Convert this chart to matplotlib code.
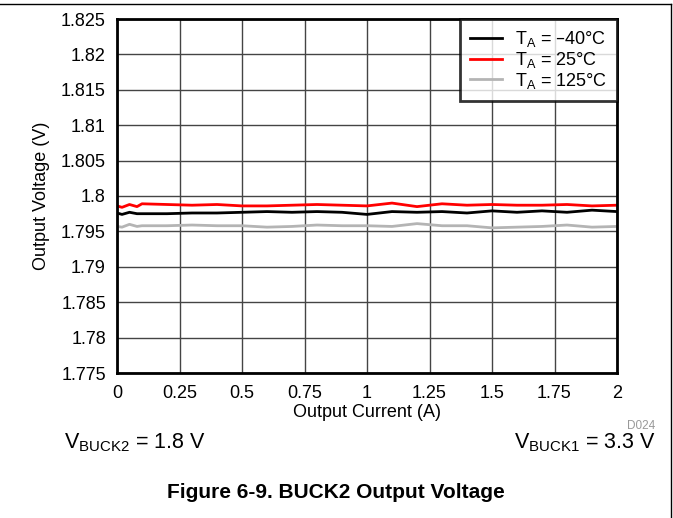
import matplotlib
matplotlib.use("Agg")
import matplotlib.pyplot as plt

plt.rcParams['font.family'] = ['Liberation Sans', 'DejaVu Sans']

# output current (A)
i_load = [0, 0.02, 0.05, 0.08, 0.1, 0.2, 0.3, 0.4, 0.5, 0.6, 0.7, 0.8, 0.9,
          1.0, 1.1, 1.2, 1.3, 1.4, 1.5, 1.6, 1.7, 1.8, 1.9, 2.0]
# output voltage (V)
v_m40 = [1.7976, 1.7974, 1.7977, 1.7975, 1.7975, 1.7975, 1.7976, 1.7976, 1.7977, 1.7978, 1.7977, 1.7978,
         1.7977, 1.7974, 1.7978, 1.7977, 1.7978, 1.7976, 1.7979, 1.7977, 1.7979, 1.7977, 1.7980, 1.7978]
v_25 = [1.7986, 1.7984, 1.7988, 1.7985, 1.7989, 1.7988, 1.7987, 1.7988, 1.7986, 1.7986, 1.7987, 1.7988,
        1.7987, 1.7986, 1.7990, 1.7985, 1.7989, 1.7987, 1.7988, 1.7987, 1.7987, 1.7988, 1.7986, 1.7987]
v_125 = [1.7957, 1.7956, 1.7960, 1.7957, 1.7958, 1.7958, 1.7959, 1.7958, 1.7958, 1.7956, 1.7957, 1.7959,
         1.7958, 1.7958, 1.7957, 1.7961, 1.7958, 1.7958, 1.7955, 1.7956, 1.7957, 1.7959, 1.7956, 1.7957]

x_ticks = [0, 0.25, 0.5, 0.75, 1, 1.25, 1.5, 1.75, 2]
x_labels = ['0', '0.25', '0.5', '0.75', '1', '1.25', '1.5', '1.75', '2']
y_ticks = [1.775, 1.78, 1.785, 1.79, 1.795, 1.8, 1.805, 1.81, 1.815, 1.82, 1.825]
y_labels = ['1.775', '1.78', '1.785', '1.79', '1.795', '1.8', '1.805', '1.81', '1.815', '1.82', '1.825']

fig = plt.figure(figsize=(6.73, 5.18), dpi=100)
ax = fig.add_axes([117/673, 1 - 373/518, 500/673, 354/518])

ax.plot(i_load, v_m40, color='black', lw=2, label='T$_\\mathregular{A}$ = \u201340\u00b0C')
ax.plot(i_load, v_25, color='#ff0000', lw=2, label='T$_\\mathregular{A}$ = 25\u00b0C')
ax.plot(i_load, v_125, color='#b4b4b4', lw=2, label='T$_\\mathregular{A}$ = 125\u00b0C')

ax.set_xlim(0, 2)
ax.set_ylim(1.775, 1.825)
ax.set_xticks(x_ticks)
ax.set_xticklabels(x_labels)
ax.set_yticks(y_ticks)
ax.set_yticklabels(y_labels)
ax.tick_params(axis='x', length=0, labelsize=13, pad=9)
ax.tick_params(axis='y', length=0, labelsize=13, pad=8)
ax.grid(True, color='#444444', lw=1)
ax.set_axisbelow(True)
for s in ax.spines.values():
    s.set_linewidth(2)

ax.set_xlabel('Output Current (A)', fontsize=13, labelpad=1)
ax.set_ylabel('Output Voltage (V)', fontsize=13, labelpad=8)

leg = ax.legend(loc='upper right', fontsize=13, frameon=True, fancybox=False,
                borderaxespad=0, handlelength=1.8, labelspacing=0.05, handletextpad=0.7,
                borderpad=0.55)
leg.get_frame().set_edgecolor('black')
leg.get_frame().set_linewidth(2)

fig.text(655/673, 1 - 426/518, 'D024', color='#999999', fontsize=8.5, ha='right', va='center')
fig.text(64/673, 1 - 443/518, 'V$_\\mathregular{BUCK2}$ = 1.8 V', fontsize=15.5, ha='left', va='center')
fig.text(656/673, 1 - 443/518, 'V$_\\mathregular{BUCK1}$ = 3.3 V', fontsize=15.5, ha='right', va='center')
fig.text(336/673, 1 - 493/518, 'Figure 6-9. BUCK2 Output Voltage', fontsize=15, fontweight='bold',
         ha='center', va='center')

# page frame (top and right edges)
fig.add_artist(plt.Line2D([0, 671/673], [1 - 4/518, 1 - 4/518], color='black', lw=1, transform=fig.transFigure))
fig.add_artist(plt.Line2D([671/673, 671/673], [0, 1 - 4/518], color='black', lw=1, transform=fig.transFigure))

fig.savefig('out.png', dpi=100)
